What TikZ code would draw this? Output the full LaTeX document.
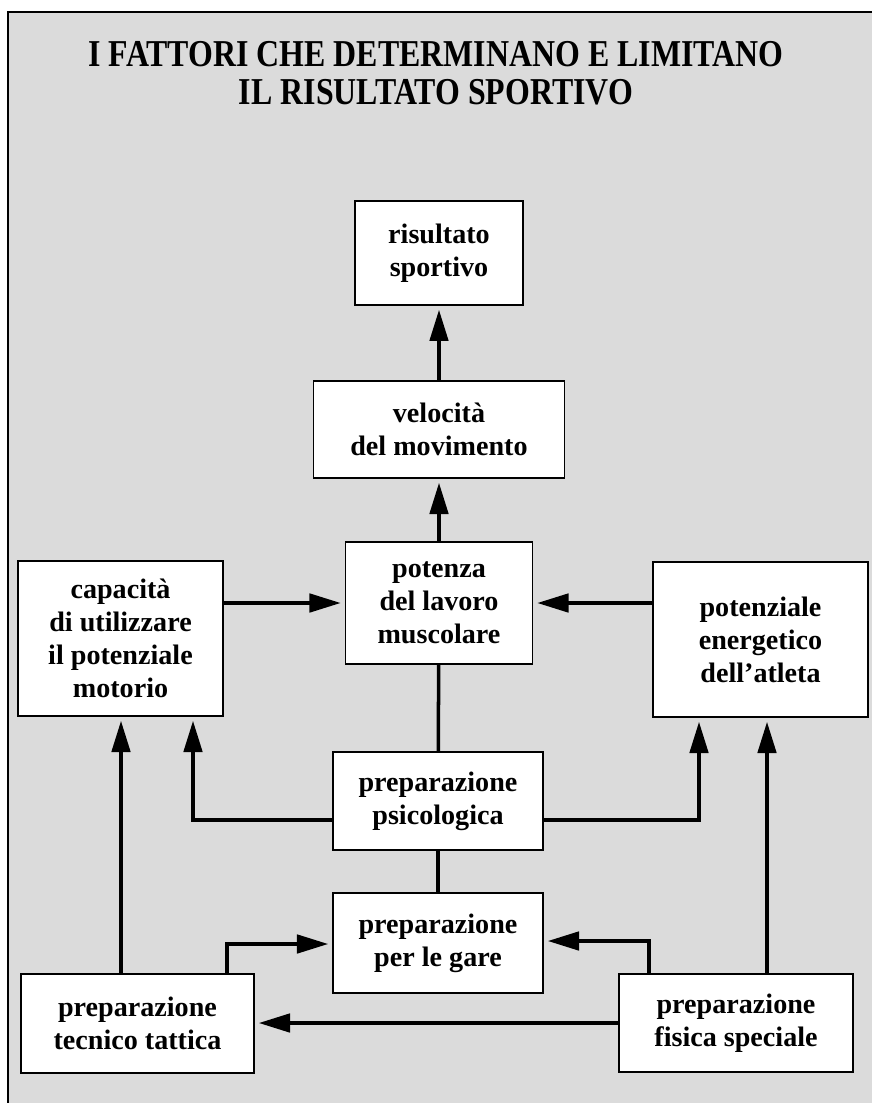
\documentclass[tikz,border=0pt]{standalone}
\usepackage{fontspec}
\usepackage{graphicx}
\setmainfont{Liberation Serif}
\usetikzlibrary{arrows.meta}

\tikzset{
  factor/.style={shape=rectangle, draw=black, fill=white, line width=1.1pt, align=center, inner sep=0pt,
    font=\bfseries\fontsize{20}{23.5}\selectfont},
  arr/.style={line width=2.5pt, -{Triangle[length=0.78cm,width=0.46cm]}, shorten >=0.1cm},
  link/.style={line width=2.5pt},
}

\begin{document}
\begin{tikzpicture}[x=0.025cm, y=-0.025cm]
%%%%%%%%%%%%%%%%%%%%%%%%%%%%%%%%%%%%%%%%%%% HELP LINES
%\draw[help lines] (0,0) grid +(872,1103);
\useasboundingbox (0,0) rectangle (872,1103);

%%%%%%%%%%%%%%%%%%%%%%%%%%%%%%%%%%%%%%%%%%% background and frame
\fill[black!14] (8,12) rectangle (872,1103);
\draw[line width=1.2pt] (8,1103) -- (8,12) -- (872,12);

%%%%% title
\node[align=center, font=\bfseries\fontsize{27}{27}\selectfont](title) at (436,73)
  {\scalebox{0.84}[1]{I FATTORI CHE DETERMINANO E LIMITANO}\\\scalebox{0.84}[1]{IL RISULTATO SPORTIVO}};

%%%%%%%%%%%%%%%%%%%%%%%%%%%%%%%%%%%%%%%%%%% factors
\node[factor, minimum width=4.2cm, minimum height=2.6cm](risultato) at (439,253) {risultato\\sportivo};
\node[factor, minimum width=6.275cm, minimum height=2.425cm](velocita) at (439,429.5) {velocità\\del movimento};
\node[factor, minimum width=4.675cm, minimum height=3.05cm](potenza) at (439,603) {potenza\\del lavoro\\muscolare};
\node[factor, minimum width=5.125cm, minimum height=3.875cm](capacita) at (120.5,638.5) {capacità\\di utilizzare\\il potenziale\\motorio};
\node[factor, minimum width=5.375cm, minimum height=3.875cm](potenziale) at (760.5,639.5) {potenziale\\energetico\\dell'atleta};
\node[factor, minimum width=5.25cm, minimum height=2.45cm](psico) at (438,801) {preparazione\\psicologica};
\node[factor, minimum width=5.25cm, minimum height=2.5cm](gare) at (438,943) {preparazione\\per le gare};
\node[factor, minimum width=5.825cm, minimum height=2.475cm](tecnico) at (137.5,1023.5) {preparazione\\tecnico tattica};
\node[factor, minimum width=5.85cm, minimum height=2.45cm](fisica) at (736,1023) {preparazione\\fisica speciale};

%%%%% bends of the connectors
\coordinate (psL) at (193,820);
\coordinate (psR) at (699,820);
\coordinate (tcL) at (121,0);
\coordinate (tcR) at (227,944);
\coordinate (fsL) at (649,941);
\coordinate (fsR) at (767,0);

%%%%%%%%%%%%%%%%%%%%%%%%%%%%%%%%%%%%%%%%%%% connectors
\draw[arr] (velocita) -- (risultato);
\draw[arr] (potenza) -- (velocita);
\draw[arr] (capacita.east |- potenza) -- (potenza.west);
\draw[arr] (potenziale.west |- potenza) -- (potenza.east);
\draw[link] (potenza) -- (psico);
\draw[link] (psico) -- (gare);
\draw[arr] (psico.west |- psL) -| (capacita.south -| psL);
\draw[arr] (psico.east |- psR) -| (potenziale.south -| psR);
\draw[arr] (tecnico.north -| tcL) -- (capacita.south -| tcL);
\draw[arr] (tecnico.north -| tcR) |- (gare.west |- tcR);
\draw[arr] (fisica.north -| fsL) |- (gare.east |- fsL);
\draw[arr] (fisica.north -| fsR) -- (potenziale.south -| fsR);
\draw[arr] (fisica.west) -- (fisica.west -| tecnico.east);
\end{tikzpicture}
\end{document}
